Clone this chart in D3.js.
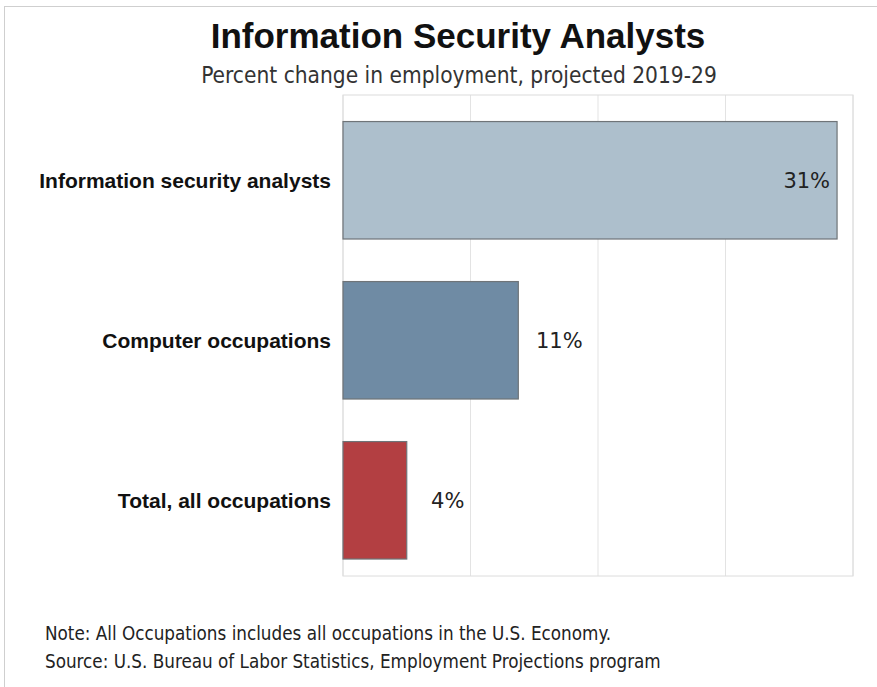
<!DOCTYPE html>
<html>
<head>
<meta charset="utf-8">
<script src="https://cdn.jsdelivr.net/npm/d3@7"></script>
<style>
  body { margin: 0; background: #fff; }
  svg { display: block; }
</style>
</head>
<body>
<div id="chart"></div>
<script>
// data
const categories = ['Information security analysts', 'Computer occupations', 'Total, all occupations'];
const values = [31, 11, 4];
const barColors = ['#adbfcc', '#6f8ba4', '#b33f42'];
const xTicks = [0, 8, 16, 24, 32];
const title = 'Information Security Analysts';
const subtitle = 'Percent change in employment, projected 2019-29';
const notes = [
  'Note: All Occupations includes all occupations in the U.S. Economy.',
  'Source: U.S. Bureau of Labor Statistics, Employment Projections program'
];

const W = 877;
const H = 687;
const margin = { t: 95, r: 24, b: 111, l: 343 };
const innerW = W - margin.l - margin.r;
const innerH = H - margin.t - margin.b;

const svg = d3.select('#chart').append('svg')
  .attr('width', W)
  .attr('height', H);

// outer frame
svg.append('rect')
  .attr('x', 4.5)
  .attr('y', 6.5)
  .attr('width', W)
  .attr('height', H)
  .attr('fill', 'none')
  .attr('stroke', '#cfcfcf');

svg.append('text')
  .attr('x', 458)
  .attr('y', 48)
  .attr('text-anchor', 'middle')
  .style('font-family', '"Liberation Sans", Arial, sans-serif')
  .style('font-weight', 'bold')
  .style('font-size', '35px')
  .style('fill', '#111')
  .text(title);

svg.append('text')
  .attr('x', 459)
  .attr('y', 83)
  .attr('text-anchor', 'middle')
  .style('font-family', '"DejaVu Sans Condensed", "DejaVu Sans", sans-serif')
  .style('font-size', '22.5px')
  .style('fill', '#333')
  .text(subtitle);

const g = svg.append('g')
  .attr('transform', `translate(${margin.l}, ${margin.t})`);

// scales
const x = d3.scaleLinear()
  .domain([0, 32])
  .range([0, innerW]);

const y = d3.scaleBand()
  .domain(categories)
  .range([0, innerH])
  .paddingInner(0.266)
  .paddingOuter(0.136)
  .align(0.61);

// grid
g.selectAll('.grid')
  .data(xTicks)
  .enter().append('line')
  .attr('class', 'grid')
  .attr('x1', d => x(d))
  .attr('x2', d => x(d))
  .attr('y1', 0)
  .attr('y2', innerH)
  .style('stroke', '#e3e3e3');

g.append('rect')
  .attr('width', innerW)
  .attr('height', innerH)
  .attr('fill', 'none')
  .style('stroke', '#dcdcdc');

// bars
g.selectAll('.bar')
  .data(values)
  .enter().append('rect')
  .attr('class', 'bar')
  .attr('x', 0)
  .attr('y', (d, i) => y(categories[i]))
  .attr('width', d => x(d))
  .attr('height', y.bandwidth())
  .attr('fill', (d, i) => barColors[i])
  .style('stroke', '#6f7478')
  .style('stroke-width', 1.2);

// value labels
g.selectAll('.val')
  .data(values)
  .enter().append('text')
  .attr('class', 'val')
  .attr('x', d => (x(d) > innerW * 0.8 ? x(d) - 7 : x(d) + 41))
  .attr('y', (d, i) => y(categories[i]) + y.bandwidth() / 2)
  .attr('dy', '0.36em')
  .attr('text-anchor', d => (x(d) > innerW * 0.8 ? 'end' : 'middle'))
  .style('font-family', '"DejaVu Sans", Verdana, sans-serif')
  .style('font-size', '21px')
  .style('fill', '#222')
  .text(d => `${d}%`);

// category axis
const yAxis = d3.axisLeft(y).tickSize(0).tickPadding(12);
g.append('g')
  .attr('class', 'axis axis--y')
  .call(yAxis)
  .call(sel => sel.select('.domain').remove())
  .selectAll('text')
  .attr('dy', '0.35em')
  .style('font-family', '"Liberation Sans", Arial, sans-serif')
  .style('font-weight', 'bold')
  .style('font-size', '21px')
  .style('fill', '#111');

// footnotes
svg.selectAll('.note')
  .data(notes)
  .enter().append('text')
  .attr('class', 'note')
  .attr('x', 45)
  .attr('y', (d, i) => 640 + i * 28)
  .style('font-family', '"DejaVu Sans Condensed", "DejaVu Sans", sans-serif')
  .style('font-size', '18.7px')
  .style('fill', '#222')
  .text(d => d);
</script>
</body>
</html>
